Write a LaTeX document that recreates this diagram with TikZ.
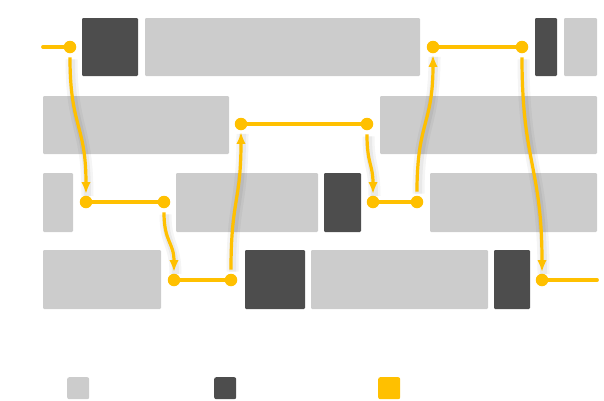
\documentclass[tikz,border=0pt]{standalone}
\usetikzlibrary{arrows.meta}
\definecolor{lgray}{HTML}{CCCCCC}
\definecolor{dgray}{HTML}{4D4D4D}
\definecolor{ylw}{HTML}{FFC000}
\begin{document}
\begin{tikzpicture}[x=1pt,y=-1pt,
  box/.style={anchor=north west,inner sep=0pt,outer sep=0pt,rounded corners=1.2pt},
  lbox/.style={box,fill=lgray},
  dbox/.style={box,fill=dgray},
  dot/.style={circle,fill=ylw,inner sep=0pt,minimum size=12.5pt},
  link/.style={draw=ylw,line width=3.8pt,line cap=round},
  arr/.style={draw=ylw,line width=3.2pt,-{Latex[length=12pt,width=9.5pt]},
    preaction={draw=black,-,opacity=0.04,line width=12pt,transform canvas={shift={(1.5pt,-2pt)}}},
    preaction={draw=black,-,opacity=0.05,line width=7pt,transform canvas={shift={(1.5pt,-2pt)}}}},
  leg/.style={anchor=north west,inner sep=0pt,minimum width=22pt,minimum height=22pt,rounded corners=2pt}]
\useasboundingbox (0,0) rectangle (604,400);
% row 1
\node[dbox,minimum width=56pt,minimum height=58pt] (r1d1) at (82,18) {};
\node[lbox,minimum width=275pt,minimum height=58pt] (r1l1) at (145,18) {};
\node[dbox,minimum width=22pt,minimum height=58pt] (r1d2) at (535,18) {};
\node[lbox,minimum width=33pt,minimum height=58pt] (r1l2) at (564,18) {};
% row 2
\node[lbox,minimum width=186pt,minimum height=58pt] (r2l1) at (43,96) {};
\node[lbox,minimum width=217pt,minimum height=58pt] (r2l2) at (380,96) {};
% row 3
\node[lbox,minimum width=30pt,minimum height=59pt] (r3l1) at (43,173) {};
\node[lbox,minimum width=142pt,minimum height=59pt] (r3l2) at (176,173) {};
\node[dbox,minimum width=37pt,minimum height=59pt] (r3d1) at (324,173) {};
\node[lbox,minimum width=167pt,minimum height=59pt] (r3l3) at (430,173) {};
% row 4
\node[lbox,minimum width=118pt,minimum height=59pt] (r4l1) at (43,250) {};
\node[dbox,minimum width=60pt,minimum height=59pt] (r4d1) at (245,250) {};
\node[lbox,minimum width=177pt,minimum height=59pt] (r4l2) at (311,250) {};
\node[dbox,minimum width=36pt,minimum height=59pt] (r4d2) at (494,250) {};
% legend
\node[leg,fill=lgray] (lg1) at (67,377) {};
\node[leg,fill=dgray] (lg2) at (214,377) {};
\node[leg,fill=ylw] (lg3) at (378,377) {};
% path points
\coordinate (s) at (43,47);
\coordinate (e) at (597,280);
\node[dot] (d1) at (70,47) {};
\node[dot] (d2) at (86,202) {};
\node[dot] (d3) at (164,202) {};
\node[dot] (d4) at (174,280) {};
\node[dot] (d5) at (231,280) {};
\node[dot] (d6) at (241,124) {};
\node[dot] (d7) at (367,124) {};
\node[dot] (d8) at (373,202) {};
\node[dot] (d9) at (417,202) {};
\node[dot] (d10) at (433,47) {};
\node[dot] (d11) at (522,47) {};
\node[dot] (d12) at (542,280) {};
% horizontal links
\draw[link] (s) -- (d1);
\draw[link] (d2) -- (d3);
\draw[link] (d4) -- (d5);
\draw[link] (d6) -- (d7);
\draw[link] (d8) -- (d9);
\draw[link] (d10) -- (d11);
\draw[link] (d12) -- (e);
% vertical curved arrows
\draw[arr] ([yshift=-4pt]d1.south) .. controls +(0pt,-70pt) and +(0pt,70pt) .. ([yshift=1.5pt]d2.north);
\draw[arr] ([yshift=-4pt]d3.south) .. controls +(0pt,-30pt) and +(0pt,30pt) .. ([yshift=1.5pt]d4.north);
\draw[arr] ([yshift=4pt]d5.north) .. controls +(0pt,70pt) and +(0pt,-70pt) .. ([yshift=-1.5pt]d6.south);
\draw[arr] ([yshift=-4pt]d7.south) .. controls +(0pt,-30pt) and +(0pt,30pt) .. ([yshift=1.5pt]d8.north);
\draw[arr] ([yshift=4pt]d9.north) .. controls +(0pt,70pt) and +(0pt,-70pt) .. ([yshift=-1.5pt]d10.south);
\draw[arr] ([yshift=-4pt]d11.south) .. controls +(0pt,-105pt) and +(0pt,105pt) .. ([yshift=1.5pt]d12.north);
\end{tikzpicture}
\end{document}
